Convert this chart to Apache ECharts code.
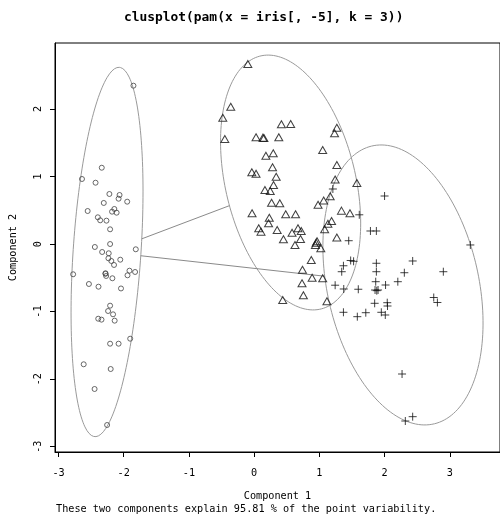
<!DOCTYPE html>
<html>
<head>
<meta charset="utf-8">
<script src="https://cdn.jsdelivr.net/npm/echarts@6/dist/echarts.min.js"></script>
<style>
  html, body { margin: 0; padding: 0; background: #ffffff; }
  #chart { width: 500px; height: 516px; }
</style>
</head>
<body>
<div id="chart"></div>
<script>
// Principal component scores (Component 1, Component 2) per PAM cluster
const cluster1 = [
  [-2.337, 1.131], [-2.640, 0.964], [-2.432, 0.909], [-2.220, 0.742], [-2.064, 0.727],
  [-2.079, 0.672], [-1.947, 0.628], [-2.306, 0.609], [-2.553, 0.490], [-2.144, 0.520],
  [-2.179, 0.480], [-2.109, 0.465], [-2.397, 0.397], [-2.361, 0.352], [-2.265, 0.347],
  [-2.209, 0.219], [-2.209, 0.001], [-2.443, -0.043], [-1.815, -0.077], [-2.331, -0.117],
  [-2.230, -0.136], [-2.235, -0.210], [-2.053, -0.231], [-2.190, -0.250], [-2.149, -0.309],
  [-2.776, -0.447], [-2.280, -0.432], [-2.270, -0.472], [-2.174, -0.506], [-1.912, -0.394],
  [-1.826, -0.413], [-1.942, -0.462], [-2.534, -0.591], [-2.387, -0.631], [-2.042, -0.657],
  [-2.209, -0.912], [-2.240, -0.991], [-2.164, -1.040], [-2.391, -1.105], [-2.341, -1.119],
  [-2.139, -1.134], [-2.209, -1.475], [-2.079, -1.475], [-1.901, -1.401], [-2.614, -1.780],
  [-2.200, -1.850], [-2.447, -2.146], [-2.255, -2.679], [-1.851, 2.346], [-2.280, -0.440]
];
const cluster2 = [
  [-0.097, 2.667], [-0.359, 2.035], [-0.481, 1.872], [-0.450, 1.556], [0.418, 1.774],
  [0.560, 1.778], [0.029, 1.582], [0.135, 1.576], [0.378, 1.582], [1.268, 1.724],
  [1.233, 1.641], [1.051, 1.393], [0.180, 1.309], [0.293, 1.345], [1.268, 1.171],
  [0.282, 1.137], [-0.036, 1.063], [0.029, 1.042], [0.338, 0.998], [1.242, 0.957],
  [1.575, 0.905], [0.297, 0.875], [0.165, 0.801], [0.247, 0.786], [0.267, 0.613],
  [0.393, 0.604], [1.166, 0.708], [1.066, 0.646], [0.980, 0.583], [-0.032, 0.456],
  [0.232, 0.391], [0.484, 0.441], [0.635, 0.441], [1.339, 0.495], [1.469, 0.456],
  [0.221, 0.308], [0.070, 0.234], [0.105, 0.184], [0.353, 0.209], [0.581, 0.169],
  [0.672, 0.234], [0.722, 0.194], [1.187, 0.342], [1.131, 0.302], [1.081, 0.219],
  [0.449, 0.071], [0.711, 0.076], [0.626, -0.013], [1.268, 0.098], [0.964, 0.043],
  [0.939, -0.013], [1.022, -0.061], [0.876, -0.235], [0.741, -0.379], [0.889, -0.498],
  [1.051, -0.506], [0.734, -0.580], [0.755, -0.758], [0.438, -0.828], [1.116, -0.847],
  [0.950, 0.020], [0.150, 1.570]
];
const cluster3 = [
  [1.207, 0.816], [1.612, 0.434], [2.000, 0.712], [1.783, 0.194], [1.874, 0.194],
  [1.450, 0.050], [3.315, -0.013], [1.480, -0.243], [1.525, -0.255], [2.431, -0.250],
  [1.874, -0.284], [1.369, -0.321], [1.343, -0.409], [1.874, -0.409], [2.303, -0.424],
  [2.901, -0.409], [1.242, -0.609], [1.374, -0.665], [1.597, -0.669], [1.864, -0.557],
  [2.015, -0.606], [2.203, -0.557], [1.854, -0.680], [1.900, -0.680], [1.848, -0.877],
  [2.041, -0.868], [2.045, -0.917], [2.754, -0.791], [2.810, -0.865], [1.369, -1.010],
  [1.582, -1.075], [1.712, -1.016], [1.950, -1.010], [2.011, -1.050], [2.268, -1.924],
  [2.318, -2.620], [2.431, -2.556], [1.880, -0.690]
];

// Spanning ellipses: centre, semi-axes and orientation (degrees) in score units
const ellipseCentres = [[-2.256, -0.117], [0.559, 0.912], [2.282, -0.605]];
const ellipseSemiAxes = [[2.741, 0.52], [1.93, 0.995], [2.112, 1.16]];
const ellipseAngles = [86.07, 104.2, 103.2];

// Cluster pairs joined by a segment between their ellipse borders
const linkedPairs = [[0, 1], [0, 2]];

const xTicks = [-3, -2, -1, 0, 1, 2, 3];
const yTicks = [-3, -2, -1, 0, 1, 2];

const titleText = 'clusplot(pam(x = iris[, -5], k = 3))';
const subText = 'These two components explain 95.81 % of the point variability.';
const xName = 'Component 1';
const yName = 'Component 2';

function ellipseOutline(i) {
  const [cx, cy] = ellipseCentres[i];
  const [a, b] = ellipseSemiAxes[i];
  const th = ellipseAngles[i] * Math.PI / 180;
  const pts = [];
  for (let k = 0; k <= 360; k += 2) {
    const t = k * Math.PI / 180;
    pts.push([
      cx + a * Math.cos(t) * Math.cos(th) - b * Math.sin(t) * Math.sin(th),
      cy + a * Math.cos(t) * Math.sin(th) + b * Math.sin(t) * Math.cos(th)
    ]);
  }
  return pts;
}

// Where the ray from an ellipse centre along (dx, dy) meets its border
function borderPoint(i, dx, dy) {
  const [cx, cy] = ellipseCentres[i];
  const [a, b] = ellipseSemiAxes[i];
  const th = ellipseAngles[i] * Math.PI / 180;
  const u = dx * Math.cos(th) + dy * Math.sin(th);
  const v = -dx * Math.sin(th) + dy * Math.cos(th);
  const t = 1 / Math.sqrt((u / a) ** 2 + (v / b) ** 2);
  return [cx + t * dx, cy + t * dy];
}

function linkSegment(i, j) {
  const [x1, y1] = ellipseCentres[i];
  const [x2, y2] = ellipseCentres[j];
  const len = Math.hypot(x2 - x1, y2 - y1);
  const dx = (x2 - x1) / len, dy = (y2 - y1) / len;
  return [borderPoint(i, dx, dy), borderPoint(j, -dx, -dy)];
}

const FONT = "'DejaVu Sans Mono', 'Liberation Mono', monospace";
const chart = echarts.init(document.getElementById('chart'), null, { renderer: 'canvas' });

const series = [];
ellipseCentres.forEach((_, i) => {
  series.push({
    type: 'line', data: ellipseOutline(i), showSymbol: false, silent: true,
    lineStyle: { color: '#9a9a9a', width: 1 }, z: 1
  });
});
linkedPairs.forEach(([i, j]) => {
  series.push({
    type: 'line', data: linkSegment(i, j), showSymbol: false, silent: true,
    lineStyle: { color: '#8a8a8a', width: 1 }, z: 1
  });
});
series.push({
  type: 'scatter', data: cluster1, symbol: 'circle', symbolSize: 5,
  itemStyle: { color: 'rgba(0,0,0,0)', borderColor: '#444', borderWidth: 1 }, z: 3
});
series.push({
  type: 'scatter', data: cluster2, symbol: 'triangle', symbolSize: [8, 7],
  itemStyle: { color: 'rgba(0,0,0,0)', borderColor: '#111', borderWidth: 1 }, z: 3
});
series.push({
  type: 'scatter', data: cluster3, symbol: 'path://M5,0V10M0,5H10', symbolSize: 8,
  itemStyle: { color: 'rgba(0,0,0,0)', borderColor: '#111', borderWidth: 1 }, z: 3
});

chart.setOption({
  animation: false,
  backgroundColor: '#ffffff',
  title: [
    { text: titleText, left: 124, top: 11, padding: 0,
      textStyle: { fontFamily: FONT, fontWeight: 'bold', fontSize: 12.9, color: '#000' } },
    { text: subText, left: 56, top: 504, padding: 0,
      textStyle: { fontFamily: FONT, fontWeight: 'normal', fontSize: 10.2, color: '#000' } }
  ],
  grid: { left: 55, top: 43, width: 450, height: 409, show: true,
          borderColor: '#000', borderWidth: 1, backgroundColor: 'transparent' },
  xAxis: {
    type: 'value', min: -3.054, max: 3.770,
    name: xName, nameLocation: 'middle', nameGap: 39,
    nameTextStyle: { fontFamily: FONT, fontSize: 10.2, color: '#000' },
    axisLine: { show: true, onZero: false, lineStyle: { color: '#000', width: 1 } },
    axisTick: { show: true, length: 5, customValues: xTicks, lineStyle: { color: '#000' } },
    axisLabel: { customValues: xTicks, margin: 16, fontFamily: FONT, fontSize: 10.2, color: '#000' },
    splitLine: { show: false }
  },
  yAxis: {
    type: 'value', min: -3.079, max: 2.978,
    name: yName, nameLocation: 'middle', nameGap: 37, nameRotate: 90,
    nameTextStyle: { fontFamily: FONT, fontSize: 10.2, color: '#000' },
    axisLine: { show: true, onZero: false, lineStyle: { color: '#000', width: 1 } },
    axisTick: { show: true, length: 5, customValues: yTicks, lineStyle: { color: '#000' } },
    axisLabel: { customValues: yTicks, rotate: 90, margin: 12, fontFamily: FONT, fontSize: 10.2, color: '#000' },
    splitLine: { show: false }
  },
  series: series
});
</script>
</body>
</html>
